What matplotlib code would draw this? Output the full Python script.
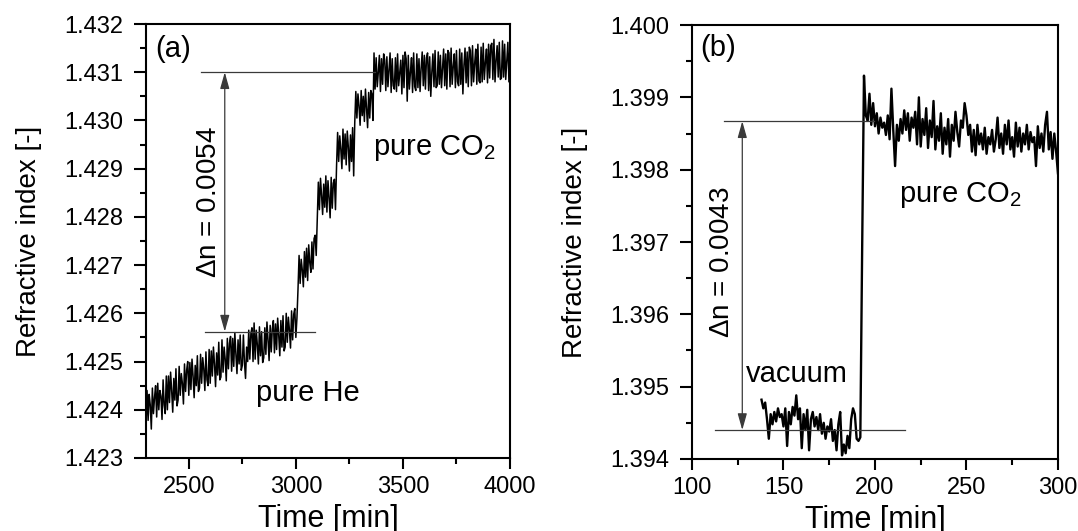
import numpy as np
import matplotlib
matplotlib.use("Agg")
import matplotlib.pyplot as plt
from matplotlib.ticker import MultipleLocator, FormatStrFormatter

plt.rcParams['font.family'] = ['Liberation Sans', 'DejaVu Sans']
plt.rcParams['mathtext.fontset'] = 'custom'
plt.rcParams['mathtext.rm'] = 'Liberation Sans'
plt.rcParams['mathtext.it'] = 'Liberation Sans:italic'

# ---------------- Panel (a): pure He -> pure CO2 (refractive index, offset from 1.42 in 1e-5) ----
time_a_start, time_a_step = 2300, 5
n_a_he = [
    365, 440, 378, 432, 410, 360, 445, 392, 425, 450,
    385, 455, 400, 440, 428, 380, 462, 410, 392, 470,
    400, 470, 415, 478, 440, 395, 465, 420, 485, 408,
    420, 490, 430, 475, 455, 412, 495, 438, 482, 500,
    430, 498, 442, 505, 470, 425, 492, 450, 512, 438,
    445, 515, 455, 508, 485, 440, 520, 462, 450, 525,
    455, 522, 470, 530, 495, 448, 518, 472, 540, 462,
    468, 545, 478, 530, 505, 460, 548, 485, 538, 552,
    480, 548, 490, 560, 515, 475, 545, 495, 555, 482,
    492, 555, 498, 465, 530, 500, 565, 505, 558, 570,
    500, 580, 505, 565, 535, 495, 572, 512, 562, 498,
    508, 570, 515, 582, 545, 502, 575, 520, 568, 585,
    518, 578, 525, 590, 555, 512, 585, 530, 595, 522,
    530, 600, 540, 592, 565, 528, 605, 545, 598, 610,
    550, 590,
]
n_a_step1 = [650, 720, 662, 712, 690, 655, 728, 675, 735, 668, 742, 705, 685, 748, 692, 755, 762, 720]
n_a_step2 = [800, 872, 815, 880, 845, 805, 868, 820, 885, 810, 875, 840, 798, 882, 818, 870, 878, 815]
n_a_step3 = [905, 975, 915, 968, 940, 900, 982, 920, 972, 908, 978, 945, 895, 970, 915, 985, 885]
n_a_step4 = [995, 1060, 1005, 1055, 1030, 990, 1062, 1010, 1050, 998, 1065, 1025, 985, 1058, 1005, 1062, 1055, 1000]
n_a_co2 = [
    1140, 1065, 1130, 1070, 1100, 1135, 1060, 1128, 1075, 1138,
    1125, 1062, 1132, 1070, 1105, 1140, 1058, 1128, 1072, 1065,
    1130, 1060, 1138, 1072, 1098, 1125, 1055, 1135, 1068, 1142,
    1128, 1040, 1135, 1065, 1100, 1130, 1058, 1140, 1070, 1062,
    1138, 1068, 1128, 1060, 1108, 1142, 1072, 1135, 1065, 1130,
    1140, 1062, 1132, 1050, 1100, 1138, 1070, 1145, 1068, 1072,
    1142, 1075, 1135, 1068, 1110, 1148, 1072, 1138, 1065, 1145,
    1140, 1070, 1150, 1075, 1112, 1138, 1068, 1145, 1080, 1072,
    1148, 1075, 1140, 1055, 1115, 1150, 1078, 1142, 1070, 1152,
    1145, 1072, 1155, 1080, 1118, 1148, 1075, 1158, 1082, 1078,
    1152, 1080, 1160, 1085, 1120, 1148, 1078, 1158, 1088, 1155,
    1160, 1085, 1168, 1080, 1125, 1155, 1090, 1162, 1085, 1088,
    1165, 1090, 1158, 1085, 1122, 1162, 1080, 1160,
]
n_a_units = n_a_he + n_a_step1 + n_a_step2 + n_a_step3 + n_a_step4 + n_a_co2
n_a = 1.42 + np.array(n_a_units) * 1e-5
time_a = time_a_start + time_a_step * np.arange(len(n_a))

# ---------------- Panel (b): vacuum -> pure CO2 (offset from 1.39 in 1e-5) ----------------------
time_b_start, time_b_step = 138, 1
n_b_vacuum = [
    482, 470, 478, 455, 428, 462, 448, 465, 452, 470,
    458, 462, 445, 470, 418, 465, 448, 472, 460, 488,
    455, 470, 415, 462, 440, 468, 412, 455, 465, 445,
    458, 440, 462, 435, 450, 428, 445, 438, 455, 425,
    440, 412, 448, 465, 405, 420, 408, 432, 415, 455,
    470, 462, 428, 425, 430,
]
n_b_co2 = [
    690, 930, 875, 868, 905, 862, 892,
    860, 878, 850, 872, 858, 865, 848, 875, 842, 912,
    855, 805, 862, 840, 870, 850, 882, 855, 878, 840,
    872, 858, 880, 835, 900, 832, 870, 848, 885, 830,
    868, 845, 895, 828, 860, 840, 878, 822, 858, 835,
    870, 818, 862, 840, 880, 852, 832, 868, 858, 892,
    875, 848, 862, 825, 855, 820, 862, 835, 850, 828,
    858, 822, 845, 835, 855, 825, 842, 872, 830, 850,
    822, 862, 835, 868, 828, 845, 818, 865, 832, 858,
    825, 850, 835, 862, 828, 852, 838, 845, 805, 860,
    830, 850, 825, 862, 880, 828, 852, 815, 850, 825,
    795,
]
n_b_units = n_b_vacuum + n_b_co2
n_b = 1.39 + np.array(n_b_units) * 1e-5
time_b = time_b_start + time_b_step * np.arange(len(n_b))

# ---------------- figure ---------------------------------------------------------------------------
fig = plt.figure(figsize=(10.78, 5.31), dpi=100)
ax_a = fig.add_axes([0.1354, 0.1375, 0.3377, 0.8173])
ax_b = fig.add_axes([0.6419, 0.1356, 0.3395, 0.8173])

tick_fs = 17
xlabel_fs = 22
ylabel_fs = 20
ann_fs = 21
rot_fs = 20
ann_col = '#3a3a3a'


def style(ax):
    for s in ax.spines.values():
        s.set_linewidth(1.5)
    ax.tick_params(which='both', direction='out', top=False, right=False, width=1.5,
                   labelsize=tick_fs, colors='black')
    ax.tick_params(axis='y', which='major', length=9, pad=7)
    ax.tick_params(axis='x', which='major', length=8, pad=5)
    ax.tick_params(which='minor', length=4.5)
    ax.set_xlabel('Time [min]', fontsize=xlabel_fs, labelpad=4)
    ax.set_ylabel('Refractive index [-]', fontsize=ylabel_fs, labelpad=16)


def delta_marker(ax, x_arrow, y_low, y_high, xl_low, xr_low, xl_high, xr_high):
    ax.plot([xl_high, xr_high], [y_high, y_high], color=ann_col, lw=0.9, zorder=3)
    ax.plot([xl_low, xr_low], [y_low, y_low], color=ann_col, lw=0.9, zorder=3)
    ax.annotate('', xy=(x_arrow, y_high), xytext=(x_arrow, y_low),
                arrowprops=dict(arrowstyle='<|-|>,head_length=1.0,head_width=0.28',
                                mutation_scale=10, color=ann_col, lw=0.9,
                                shrinkA=0, shrinkB=0, facecolor='black'))


# panel (a)
ax_a.plot(time_a, n_a, color='black', lw=1.1, zorder=2)
ax_a.set_xlim(2300, 4000)
ax_a.set_ylim(1.423, 1.432)
ax_a.xaxis.set_major_locator(MultipleLocator(500))
ax_a.xaxis.set_minor_locator(MultipleLocator(250))
ax_a.yaxis.set_major_locator(MultipleLocator(0.001))
ax_a.yaxis.set_minor_locator(MultipleLocator(0.0005))
ax_a.yaxis.set_major_formatter(FormatStrFormatter('%.3f'))
style(ax_a)
delta_marker(ax_a, 2668, 1.42562, 1.4310, 2577, 3091, 2556, 3370)
ax_a.text(2345, 1.43148, '(a)', fontsize=ann_fs, ha='left', va='center')
ax_a.text(2596, 1.42831, r'$\Delta$n = 0.0054', fontsize=rot_fs, rotation=90,
          ha='center', va='center')
ax_a.text(3362, 1.42928, r'pure CO$_2$', fontsize=ann_fs, ha='left', va='baseline')
ax_a.text(2812, 1.42419, 'pure He', fontsize=ann_fs, ha='left', va='baseline')

# panel (b)
ax_b.plot(time_b, n_b, color='black', lw=1.7, zorder=2)
ax_b.set_xlim(100, 300)
ax_b.set_ylim(1.394, 1.400)
ax_b.xaxis.set_major_locator(MultipleLocator(50))
ax_b.xaxis.set_minor_locator(MultipleLocator(25))
ax_b.yaxis.set_major_locator(MultipleLocator(0.001))
ax_b.yaxis.set_minor_locator(MultipleLocator(0.0005))
ax_b.yaxis.set_major_formatter(FormatStrFormatter('%.3f'))
style(ax_b)
delta_marker(ax_b, 127.5, 1.39440, 1.39867, 112.8, 216.2, 117.5, 199.6)
ax_b.text(104.3, 1.39968, '(b)', fontsize=ann_fs, ha='left', va='center')
ax_b.text(116.6, 1.39672, r'$\Delta$n = 0.0043', fontsize=rot_fs, rotation=90,
          ha='center', va='center')
ax_b.text(129.4, 1.39506, 'vacuum', fontsize=ann_fs, ha='left', va='baseline')
ax_b.text(213.2, 1.39755, r'pure CO$_2$', fontsize=ann_fs, ha='left', va='baseline')

fig.savefig('out.png', dpi=100)
